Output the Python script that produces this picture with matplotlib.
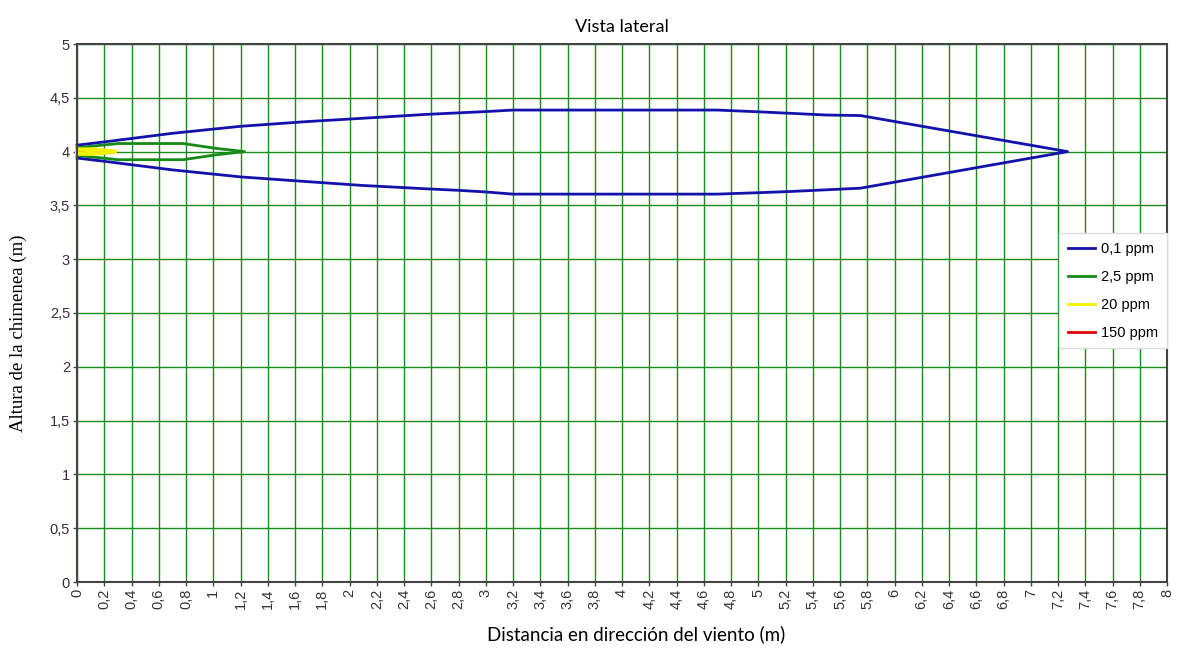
import numpy as np
from matplotlib import pyplot as plt

# contour 0,1 ppm
dist_01 = [0, 0.2, 0.7, 1.2, 1.7, 2.1, 2.3, 2.55, 2.8, 3.0, 3.2, 4.7, 5.0, 5.25, 5.5, 5.75, 7.27]
up_01 = [4.06, 4.09, 4.17, 4.235, 4.28, 4.31, 4.325, 4.345, 4.36, 4.372, 4.386, 4.386, 4.37, 4.355, 4.34, 4.335, 4.0]
lo_01 = [3.94, 3.91, 3.83, 3.765, 3.72, 3.685, 3.672, 3.655, 3.64, 3.625, 3.605, 3.605, 3.618, 3.63, 3.645, 3.66, 4.0]

# contour 2,5 ppm
dist_25 = [0, 0.3, 0.78, 1.02, 1.23]
up_25 = [4.035, 4.075, 4.075, 4.03, 4.0]
lo_25 = [3.965, 3.925, 3.925, 3.97, 4.0]

# contour 20 ppm
dist_20 = [0, 0.12, 0.28]
up_20 = [4.02, 4.02, 4.0]
lo_20 = [3.98, 3.98, 4.0]

# contour 150 ppm
dist_150 = [0, 0.05]
up_150 = [4.005, 4.0]
lo_150 = [3.995, 4.0]

x_ticks = np.arange(0, 8.01, 0.2)
y_ticks = np.arange(0, 5.01, 0.5)

def fmt(v):
    return ('%g' % round(v, 2)).replace('.', ',')

def closed(d, up, lo):
    xs = list(d) + list(d[::-1])
    ys = list(up) + list(lo[::-1])
    return xs, ys

fig = plt.figure(figsize=(11.81, 6.54), dpi=100)
ax = fig.add_axes([77/1181, 1-582/654, 1090/1181, 538/654])

grid_col = '#1a8a1a'
ax.set_xlim(0, 8)
ax.set_ylim(0, 5)
ax.set_xticks(x_ticks)
ax.set_yticks(y_ticks)
ax.set_xticklabels([fmt(v) for v in x_ticks], rotation=90, fontsize=10.5, family='Liberation Sans', color='#333333')
ax.set_yticklabels([fmt(v) for v in y_ticks], fontsize=10.5, family='Liberation Sans', color='#333333')
ax.tick_params(length=3, width=1, color='#444444', pad=2)
ax.grid(True, color=grid_col, lw=1)
ax.set_axisbelow(True)
for s in ax.spines.values():
    s.set_color('#444444')
    s.set_linewidth(1.5)

colors = ['#1212aa', '#168a16', '#f2f200', '#e00000']
widths = [2, 2, 3, 2]
zorders = [2.4, 2.3, 2.5, 2.1]
sets = [(dist_01, up_01, lo_01, '0,1 ppm'), (dist_25, up_25, lo_25, '2,5 ppm'),
        (dist_20, up_20, lo_20, '20 ppm'), (dist_150, up_150, lo_150, '150 ppm')]
handles = []
for (d, up, lo, lab), c, w, z in zip(sets, colors, widths, zorders):
    xs, ys = closed(d, up, lo)
    h, = ax.plot(xs, ys, color=c, lw=w, label=lab, clip_on=False, zorder=z)
    handles.append(h)

leg = ax.legend(handles=handles, loc='upper right', bbox_to_anchor=(1.0, 0.648), borderaxespad=0,
                prop={'family': 'Liberation Sans', 'size': 10.5}, handlelength=1.9,
                handletextpad=0.4, labelspacing=0.95, fancybox=False, framealpha=1,
                edgecolor='#dddddd', borderpad=0.6)
for lh in leg.get_lines():
    lh.set_linewidth(2)

ax.set_title('Vista lateral', family='Lato', fontsize=13, pad=9)
ax.set_xlabel('Distancia en dirección del viento (m)', family='Lato', fontsize=13.5)
ax.xaxis.set_label_coords(0.513, -0.08)
ax.set_ylabel('Altura de la chimenea (m)', family='Liberation Serif', fontsize=13.5)
ax.yaxis.set_label_coords(-0.046, 0.463)

fig.savefig('out.png', dpi=100)
